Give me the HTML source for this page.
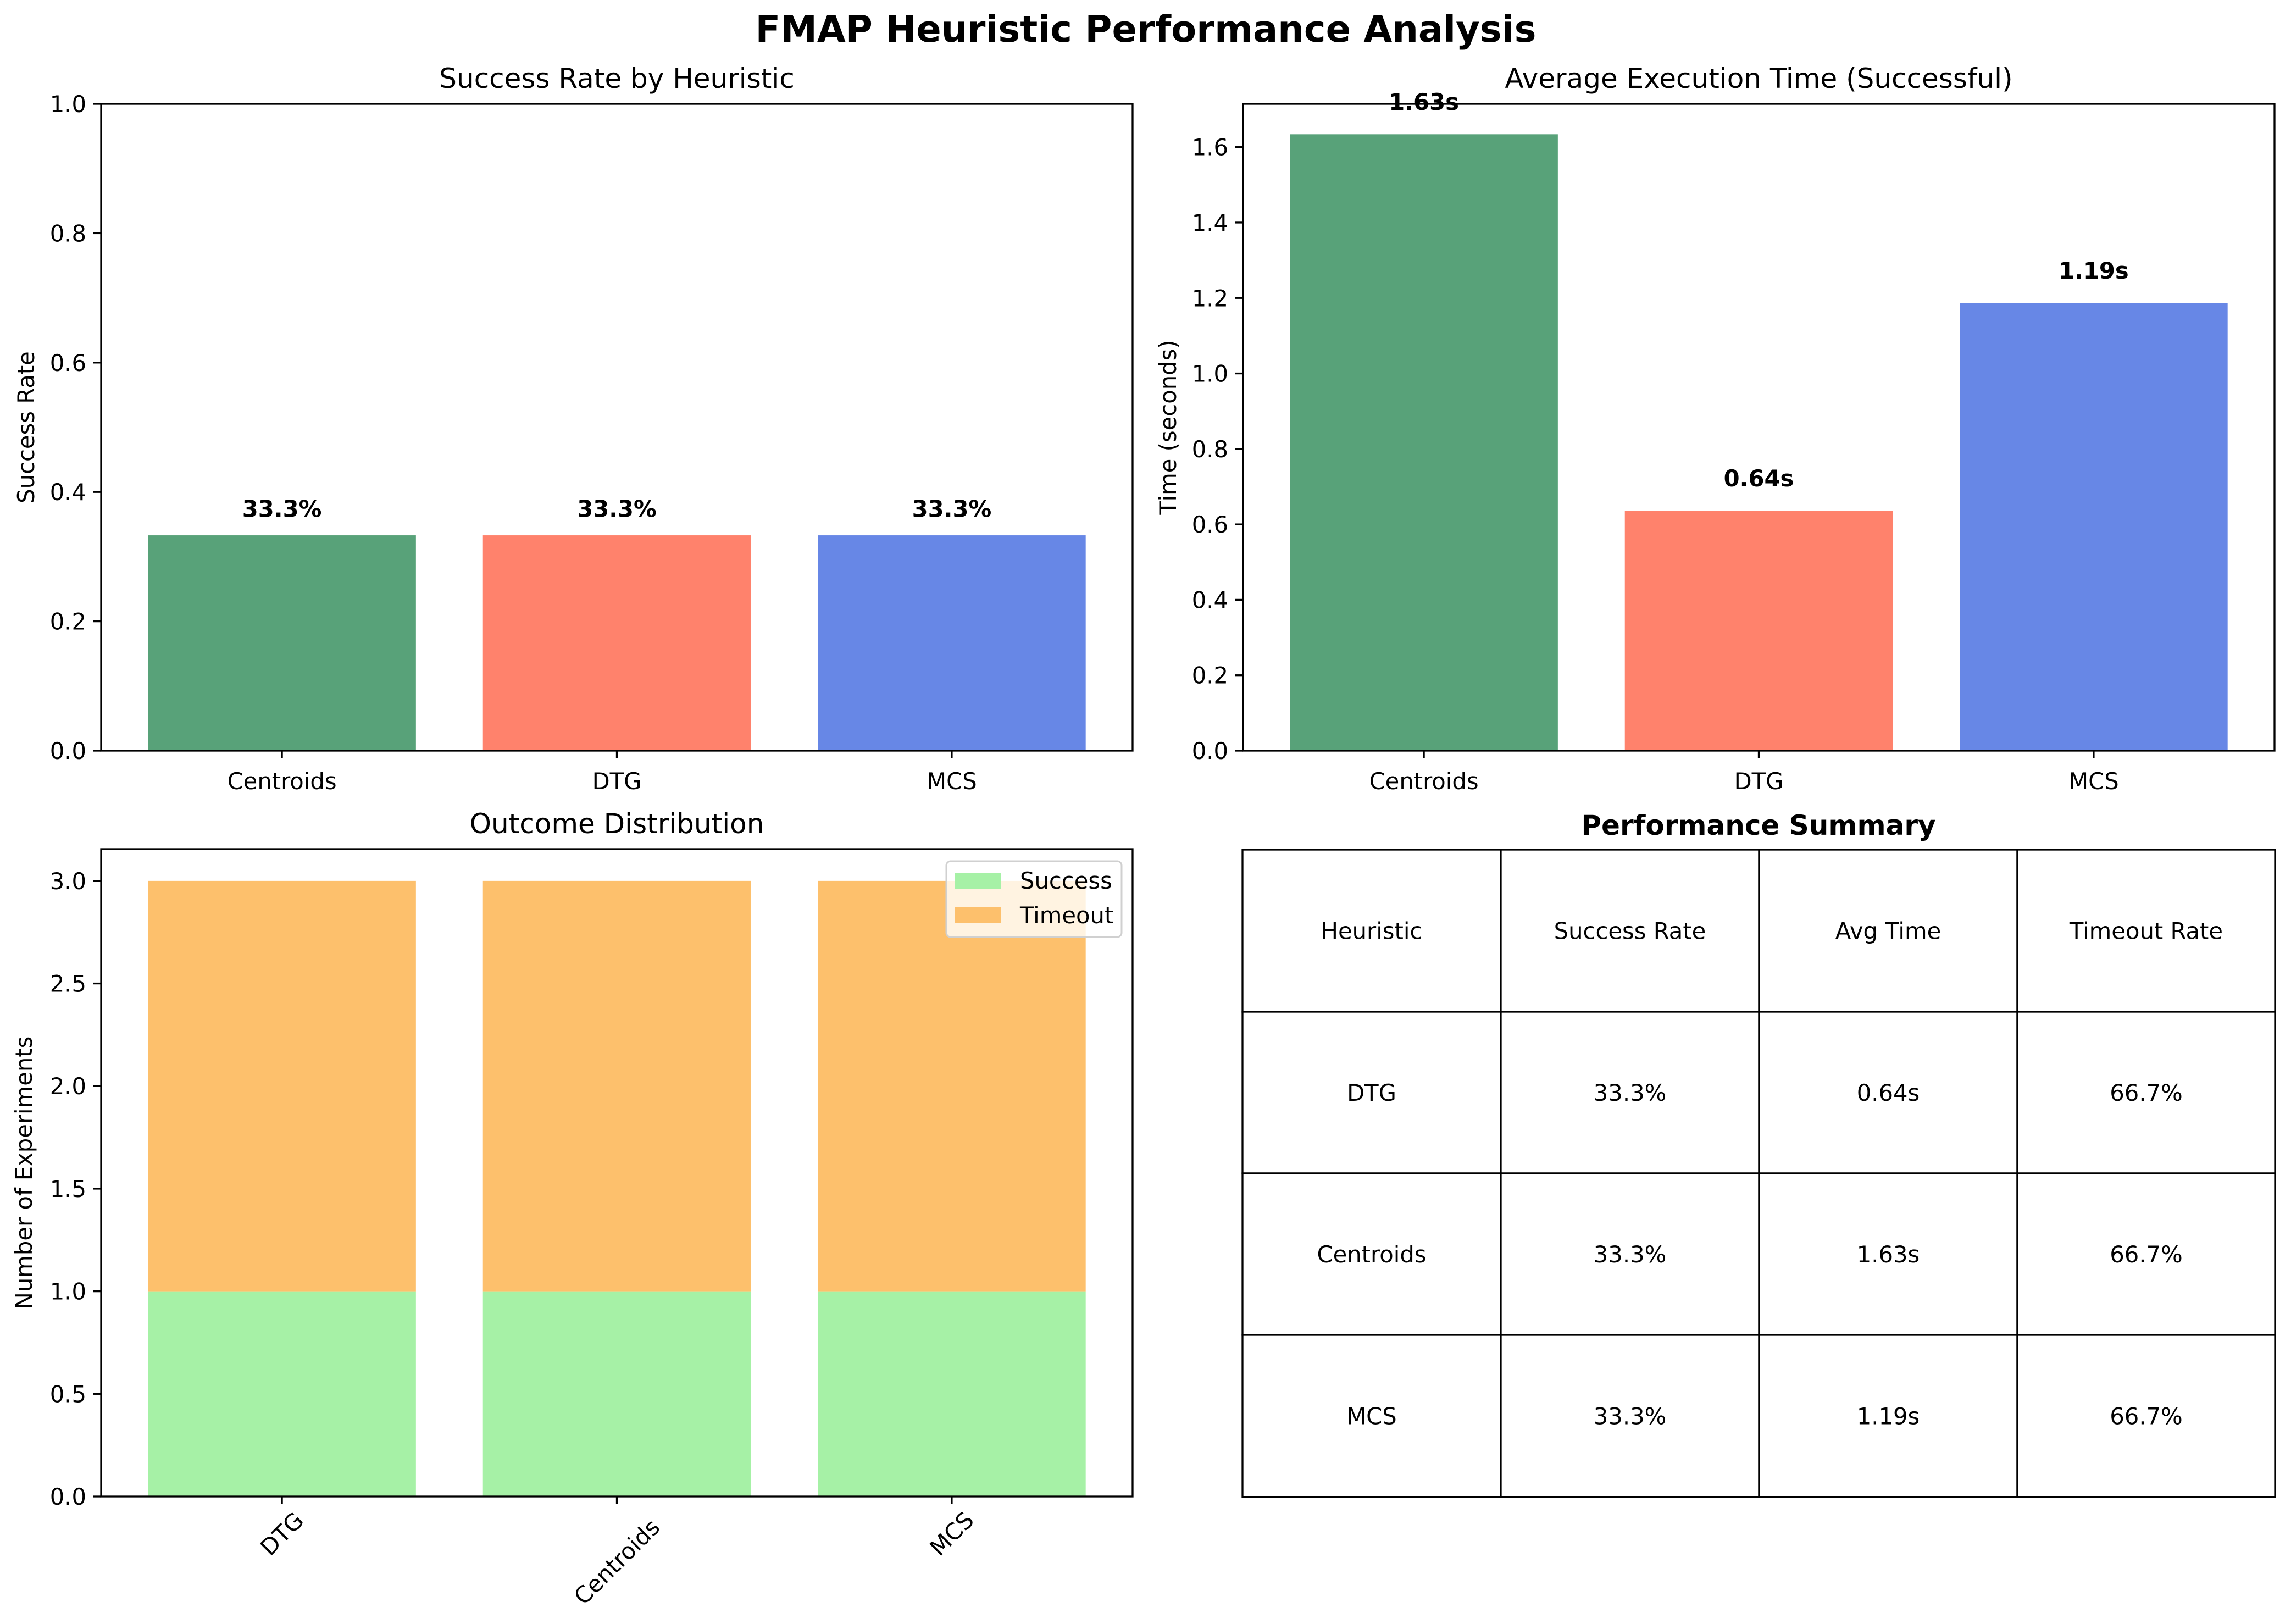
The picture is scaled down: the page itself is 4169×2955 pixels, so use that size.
<!DOCTYPE html>
<html><head><meta charset="utf-8"><style>
html,body{margin:0;padding:0;background:#fff}
svg{display:block;font-family:"DejaVu Sans","Liberation Sans",sans-serif}
</style></head><body>
<svg id="fig" width="4169" height="2955" viewBox="0 0 4169 2955" xmlns="http://www.w3.org/2000/svg">
<rect width="4169" height="2955" fill="#fff"/>
<text x="2085" y="76" font-size="67" font-weight="bold" text-anchor="middle">FMAP Heuristic Performance Analysis</text>
</svg>
<script>
// ---- data ----
const rateCats = ["Centroids","DTG","MCS"];
const rateVals = [0.333,0.333,0.333];
const rateTicks = [0.0,0.2,0.4,0.6,0.8,1.0];
const timeCats = ["Centroids","DTG","MCS"];
const timeVals = [1.634,0.636,1.187];
const timeTicks = [0.0,0.2,0.4,0.6,0.8,1.0,1.2,1.4,1.6];
const outCats = ["DTG","Centroids","MCS"];
const outSuccess = [1,1,1];
const outTimeout = [2,2,2];
const outTicks = [0.0,0.5,1.0,1.5,2.0,2.5,3.0];
const tableHeader = ["Heuristic","Success Rate","Avg Time","Timeout Rate"];
const tableRows = [["DTG","33.3%","0.64s","66.7%"],["Centroids","33.3%","1.63s","66.7%"],["MCS","33.3%","1.19s","66.7%"]];
const barColors = ["#58a279","#ff826c","#6787e6"];

const svg = document.getElementById('fig');
const NS = "http://www.w3.org/2000/svg";
function mk(tag, attrs, text){
  const e = document.createElementNS(NS, tag);
  for (const k in attrs) e.setAttribute(k, attrs[k]);
  if (text !== undefined) e.textContent = text;
  svg.appendChild(e);
  return e;
}
const FS = 41.7;

function axes(box, ymax, ticks, fmt, title, ylabel, ylabelX, prefix){
  const xs = v => box.x0 + (v + 0.54) / 3.08 * (box.x1 - box.x0);
  const ys = v => box.y1 - v / ymax * (box.y1 - box.y0);
  ticks.forEach((t,i) => {
    const y = ys(t);
    const tk = mk('line',{x1:box.x0-14,x2:box.x0,y1:y,y2:y,stroke:'#000','stroke-width':3.3});
    
    
    const tl = mk('text',{x:box.x0-27,y:y+15,'font-size':FS,'text-anchor':'end'}, fmt(t));
    
    
  });
  const tt = mk('text',{x:(box.x0+box.x1)/2,y:box.y0-29,'font-size':50,'text-anchor':'middle'}, title);
  
  
  const yl = mk('text',{x:0,y:0,'font-size':FS,'text-anchor':'middle',transform:`translate(${ylabelX},${(box.y0+box.y1)/2}) rotate(-90)`}, ylabel);
  
  
  return {xs, ys};
}
function frame(box, prefix){
  const f = mk('rect',{x:box.x0,y:box.y0,width:box.x1-box.x0,height:box.y1-box.y0,fill:'none',stroke:'#000','stroke-width':3.3});
  
  
}
function xticks(box, cats, xs, prefix, rotate){
  cats.forEach((c,i) => {
    const x = xs(i);
    const tk = mk('line',{x1:x,x2:x,y1:box.y1,y2:box.y1+14,stroke:'#000','stroke-width':3.3});
    
    
    let tl;
    if (rotate){
      const w = c.length * 24;
      const off = (w + 44) * 0.707 / 2;
      tl = mk('text',{x:0,y:0,'font-size':FS,'text-anchor':'middle','dominant-baseline':'central',transform:`translate(${x},${box.y1+27+off}) rotate(-45)`}, c);
    } else {
      tl = mk('text',{x:x,y:box.y1+70,'font-size':FS,'text-anchor':'middle'}, c);
    }
    
    
  });
}

// ---- Panel 1: success rate ----
const b1 = {x0:184,x1:2061,y0:189,y1:1366};
const a1 = axes(b1, 1.0, rateTicks, t=>t.toFixed(1), "Success Rate by Heuristic", "Success Rate", 62, 'success-rate');
const bw1 = 0.8/3.08*(b1.x1-b1.x0);
rateVals.forEach((v,i) => {
  const r = mk('rect',{x:a1.xs(i)-bw1/2,y:a1.ys(v),width:bw1,height:b1.y1-a1.ys(v),fill:barColors[i]});
  
  
});
frame(b1,'success-rate');
xticks(b1, rateCats, a1.xs, 'success-rate', false);
rateVals.forEach((v,i) => {
  const t = mk('text',{x:a1.xs(i),y:a1.ys(v+0.02)-10,'font-size':FS,'font-weight':'bold','text-anchor':'middle'}, (v*100).toFixed(1)+'%');
  
  
});

// ---- Panel 2: execution time ----
const b2 = {x0:2262,x1:4139,y0:189,y1:1366};
const a2 = axes(b2, 1.7146, timeTicks, t=>t.toFixed(1), "Average Execution Time (Successful)", "Time (seconds)", 2140, 'exec-time');
timeVals.forEach((v,i) => {
  const r = mk('rect',{x:a2.xs(i)-bw1/2,y:a2.ys(v),width:bw1,height:b2.y1-a2.ys(v),fill:barColors[i]});
  
  
});
frame(b2,'exec-time');
xticks(b2, timeCats, a2.xs, 'exec-time', false);
timeVals.forEach((v,i) => {
  const t = mk('text',{x:a2.xs(i),y:a2.ys(v+0.05)-10,'font-size':FS,'font-weight':'bold','text-anchor':'middle'}, v.toFixed(2)+'s');
  
  
});

// ---- Panel 3: outcome distribution ----
const b3 = {x0:184,x1:2061,y0:1545,y1:2723};
const a3 = axes(b3, 3.155, outTicks, t=>t.toFixed(1), "Outcome Distribution", "Number of Experiments", 58, 'outcome');
outCats.forEach((c,i) => {
  const s = outSuccess[i], t = outTimeout[i];
  const r1 = mk('rect',{x:a3.xs(i)-bw1/2,y:a3.ys(s),width:bw1,height:b3.y1-a3.ys(s),fill:'#a6f1a6'});
  
  
  const r2 = mk('rect',{x:a3.xs(i)-bw1/2,y:a3.ys(s+t),width:bw1,height:a3.ys(s)-a3.ys(s+t),fill:'#fdc06c'});
  
  
});
frame(b3,'outcome');
xticks(b3, outCats, a3.xs, 'outcome', true);
const lg = mk('rect',{x:1722,y:1567,width:319,height:138,rx:8,fill:'rgba(255,255,255,0.8)',stroke:'#d0d0d0','stroke-width':3});


[["Success","#a6f1a6",1588],["Timeout","#fdc06c",1651]].forEach(e => {
  const p = mk('rect',{x:1738,y:e[2],width:84,height:29,fill:e[1]});
  
  
  const t = mk('text',{x:1856,y:e[2]+29,'font-size':FS}, e[0]);
  
  
});

// ---- Panel 4: table ----
const tx = [2261,2731,3201,3671,4140];
const ty = [1546,1841,2135,2429,2724];
const tt = mk('text',{x:3200,y:1519,'font-size':50,'font-weight':'bold','text-anchor':'middle'}, "Performance Summary");


const allRows = [tableHeader].concat(tableRows);
allRows.forEach((row,r) => {
  row.forEach((cell,c) => {
    const rc = mk('rect',{x:tx[c],y:ty[r],width:tx[c+1]-tx[c],height:ty[r+1]-ty[r],fill:'#fff',stroke:'#000','stroke-width':3.3});
    
    
    const t = mk('text',{x:(tx[c]+tx[c+1])/2,y:(ty[r]+ty[r+1])/2+15,'font-size':FS,'text-anchor':'middle'}, cell);
    
    
  });
});
</script>
</body></html>
